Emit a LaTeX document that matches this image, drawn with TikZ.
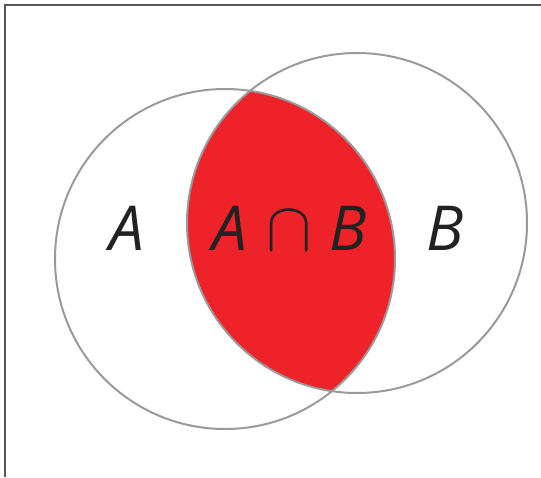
\documentclass[tikz,border=0pt]{standalone}
\usepackage{graphicx}
\usepackage{fontspec}
\setmainfont{Open Sans}
\definecolor{lensred}{HTML}{EE2229}
\definecolor{circgray}{HTML}{9A9A9A}
\definecolor{framegray}{HTML}{555555}
\definecolor{txt}{HTML}{222222}
\tikzset{
  circ/.style={draw=circgray, line width=2pt},
  lbl/.style={anchor=base, inner sep=0pt, text=txt, font=\fontsize{62}{62}\selectfont\itshape},
}
\newcommand{\bigcapsym}{{\fontsize{10}{12}\selectfont\scalebox{6.8}[7]{$\cap$}}}
\begin{document}
\begin{tikzpicture}[x=1pt,y=-1pt]
\useasboundingbox (0,0) rectangle (541,477);
\draw[framegray, line width=2pt] (5,477) -- (5,5) -- (541,5);
\begin{scope}
  \clip (225,259) circle [radius=170pt];
  \fill[lensred] (357,223) circle [radius=170pt];
\end{scope}
\draw[circ] (225,259) circle [radius=170pt];
\draw[circ] (357,223) circle [radius=170pt];
\node[lbl] (a) at (127,250) {A};
\node[lbl] (ab) at (290,250) {A\hspace{19pt}\bigcapsym\hspace{18pt}B};
\node[lbl] (b) at (445,250) {B};
\end{tikzpicture}
\end{document}
